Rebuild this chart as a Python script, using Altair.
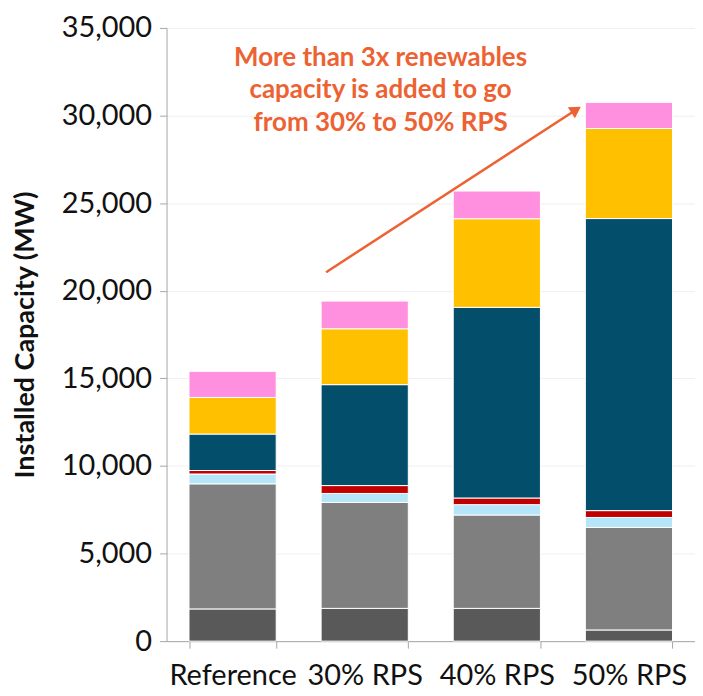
import altair as alt
import pandas as pd

categories = ["Reference", "30% RPS", "40% RPS", "50% RPS"]
resources = ["Nuclear & Other", "Natural Gas", "Hydro", "Biomass & Geothermal",
             "Solar", "Wind", "Distributed Solar"]
colors = ["#595959", "#7f7f7f", "#b4e5f9", "#c00000", "#034e6b", "#ffc000", "#ff8fdf"]

# MW by resource, bottom to top
reference_mw = [1840, 7140, 560, 200, 2080, 2090, 1490]
rps30_mw = [1870, 6050, 510, 450, 5760, 3190, 1580]
rps40_mw = [1870, 5330, 590, 380, 10880, 5060, 1580]
rps50_mw = [640, 5850, 570, 390, 16670, 5140, 1490]

y_ticks = [0, 5000, 10000, 15000, 20000, 25000, 30000, 35000]

note_text = "More than 3x renewables\ncapacity is added to go\nfrom 30% to 50% RPS"
note_pos = [1.62, 32850]          # (category units, MW)
arrow_x = [1.208, 3.10]           # category units
arrow_y = [21060, 30330]          # MW
arrow_angle = 57

rows = []
for cat, vals in zip(categories, [reference_mw, rps30_mw, rps40_mw, rps50_mw]):
    for i, (res, v) in enumerate(zip(resources, vals)):
        rows.append({"scenario": cat, "resource": res, "order": i, "mw": v})
df = pd.DataFrame(rows)

W, H = 530, 615
FONT = "Lato"
ORANGE = "#ec6232"
TXT = "#111111"

bars = alt.Chart(df).mark_bar(stroke="white", strokeWidth=1).encode(
    x=alt.X("scenario:N", sort=categories, title=None,
            scale=alt.Scale(paddingInner=0.34, paddingOuter=0.17),
            axis=alt.Axis(labelAngle=0, labelFontSize=29, labelFont=FONT, labelColor=TXT,
                          tickBand="extent", tickSize=7, tickColor="#a6a6a6",
                          domainColor="#a6a6a6", labelPadding=13, grid=False)),
    y=alt.Y("mw:Q", stack="zero", title="Installed Capacity (MW)",
            scale=alt.Scale(domain=[0, 35000], nice=False),
            axis=alt.Axis(values=y_ticks, format=",d", labelFontSize=29, labelFont=FONT,
                          labelColor=TXT, tickSize=7, tickColor="#a6a6a6",
                          domainColor="#a6a6a6", gridColor="#efefef", labelPadding=8,
                          titleFont=FONT, titleFontSize=27, titleFontWeight="bold",
                          titleColor=TXT, titlePadding=22)),
    color=alt.Color("resource:N", sort=resources,
                    scale=alt.Scale(domain=resources, range=colors), legend=None),
    order=alt.Order("order:Q"),
)

arrow_df = pd.DataFrame({"x": arrow_x, "y": arrow_y})
xq = alt.X("x:Q", scale=alt.Scale(domain=[0, 4], nice=False), axis=None)
yq = alt.Y("y:Q", scale=alt.Scale(domain=[0, 35000], nice=False))

shaft = alt.Chart(arrow_df).mark_line(color=ORANGE, strokeWidth=2.5).encode(x=xq, y=yq)
head = alt.Chart(pd.DataFrame({"x": [arrow_x[1]], "y": [arrow_y[1]]})).mark_point(
    shape="triangle-up", filled=True, size=170, color=ORANGE, opacity=1,
    angle=arrow_angle).encode(x=xq, y=yq)
note = alt.Chart(pd.DataFrame({"x": [note_pos[0]], "y": [note_pos[1]], "t": [note_text]})).mark_text(
    font=FONT, fontSize=26, fontWeight="bold", color=ORANGE, align="center",
    baseline="alphabetic", lineBreak="\n", lineHeight=33).encode(x=xq, y=yq, text="t:N")

chart = alt.layer(bars, shaft, head, note).resolve_scale(x="independent").properties(
    width=W, height=H, padding={"left": 3, "top": 5, "right": 0, "bottom": 0}
).configure_view(stroke=None)

chart.save("out.html", embed_options={"renderer": "svg", "actions": False})
